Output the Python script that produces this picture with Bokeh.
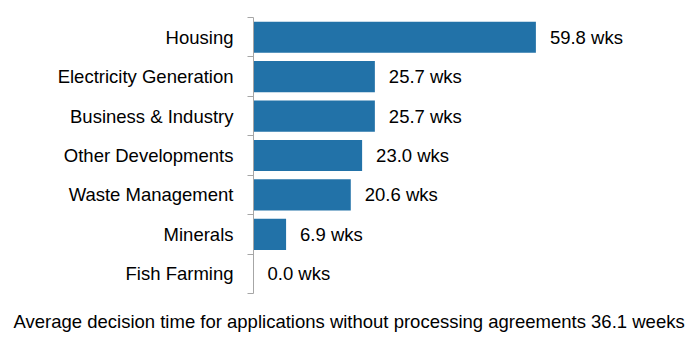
from bokeh.plotting import figure
from bokeh.models import ColumnDataSource, Range1d, FixedTicker, Title
from bokeh.core.properties import value
from bokeh.embed import file_html
from bokeh.resources import INLINE

categories = ["Housing", "Electricity Generation", "Business & Industry",
              "Other Developments", "Waste Management", "Minerals", "Fish Farming"]
weeks = [59.8, 25.7, 25.7, 23.0, 20.6, 6.9, 0.0]
caption = "Average decision time for applications without processing agreements 36.1 weeks"

n = len(categories)
pos = [n - 1 - i for i in range(n)]
labels = [f"{v:.1f} wks" for v in weeks]
src = ColumnDataSource(dict(cat=categories, y=pos, w=weeks, lab=labels))

W, H = 689, 347
p = figure(width=W, height=H, output_backend="svg", toolbar_location=None,
           x_range=Range1d(0, 90), y_range=Range1d(-0.5, n - 0.5),
           x_axis_location=None, min_border_left=253, min_border_right=11,
           min_border_top=17, min_border_bottom=H - 293)
p.outline_line_color = None
p.xgrid.visible = False
p.ygrid.visible = False

p.hbar(y="y", left=0, right="w", height=0.79, source=src,
       fill_color="#2272A8", line_color=None)
p.text(x="w", y="y", text="lab", source=src, x_offset=14,
       text_baseline="middle", text_align="left",
       text_font_size="18.5px", text_font=value("Liberation Sans"), text_color="#000000")

ax = p.yaxis[0]
ax.ticker = FixedTicker(ticks=pos, minor_ticks=[k - 0.5 for k in range(n + 1)])
ax.major_label_overrides = {pv: c for pv, c in zip(pos, categories)}
ax.major_tick_line_color = None
ax.major_tick_out = 0
ax.major_tick_in = 0
ax.minor_tick_out = 6
ax.minor_tick_in = 0
ax.minor_tick_line_color = "#A6A6A6"
ax.axis_line_color = "#A6A6A6"
ax.major_label_standoff = 14
ax.major_label_text_font = "Liberation Sans"
ax.major_label_text_font_size = "18.5px"
ax.major_label_text_color = "#000000"

p.add_layout(Title(text=caption, align="left", offset=-240, standoff=30,
                   text_font="Liberation Sans", text_font_size="18.5px",
                   text_font_style="normal", text_color="#000000"), "below")

open("out.html", "w").write(file_html(p, INLINE))
